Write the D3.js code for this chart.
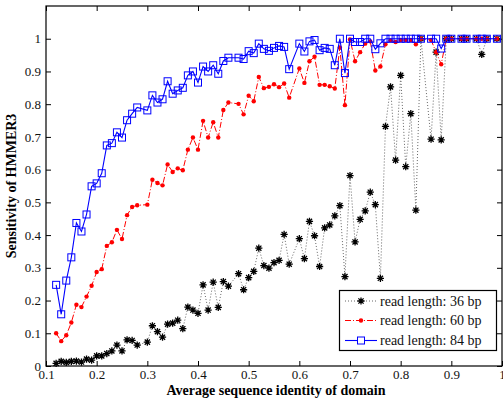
<!DOCTYPE html>
<html><head><meta charset="utf-8">
<script src="https://cdn.jsdelivr.net/npm/d3@7"></script>
<style>body{margin:0;background:#fff}svg{display:block}text{font-family:"Liberation Serif","Times New Roman",serif}</style>
</head><body><svg id="c" width="503" height="400"></svg>
<script>
const xTicks = [0.1,0.2,0.3,0.4,0.5,0.6,0.7,0.8,0.9,1];
const yTicks = [0,0.1,0.2,0.3,0.4,0.5,0.6,0.7,0.8,0.9,1];
const seriesNames = ["read length: 36 bp","read length: 60 bp","read length: 84 bp"];

const x36 = [0.12,0.13,0.14,0.15,0.16,0.17,0.18,0.19,0.20,0.21,0.22,0.23,0.24,0.25,0.26,0.27,0.28,0.30,0.31,0.32,0.33,0.34,0.35,0.36,0.37,0.38,0.39,0.40,0.41,0.42,0.43,0.44,0.45,0.46,0.48,0.49,0.50,0.51,0.52,0.53,0.54,0.55,0.56,0.57,0.58,0.60,0.61,0.62,0.63,0.64,0.65,0.66,0.67,0.68,0.69,0.70,0.71,0.72,0.73,0.74,0.75,0.76,0.77,0.78,0.79,0.80,0.81,0.82,0.83,0.84,0.86,0.87,0.88,0.89,0.90,0.92,0.93,0.95,0.96,0.97,0.99];
const y36 = [0.008,0.014,0.011,0.014,0.015,0.012,0.021,0.018,0.031,0.031,0.038,0.046,0.064,0.046,0.080,0.078,0.064,0.073,0.123,0.105,0.088,0.128,0.131,0.140,0.114,0.180,0.171,0.161,0.248,0.171,0.256,0.179,0.258,0.244,0.282,0.233,0.270,0.289,0.360,0.307,0.299,0.316,0.323,0.402,0.311,0.389,0.328,0.442,0.398,0.304,0.422,0.431,0.459,0.490,0.273,0.582,0.379,0.448,0.474,0.531,0.493,0.268,0.732,0.853,0.629,0.888,0.609,0.771,0.476,1.0,0.693,0.959,0.691,1.0,1.0,1.0,1.0,1.0,0.952,1.0,1.0];

const x60 = [0.12,0.13,0.14,0.15,0.16,0.17,0.18,0.19,0.20,0.21,0.22,0.23,0.24,0.25,0.26,0.27,0.28,0.30,0.31,0.32,0.33,0.34,0.35,0.36,0.37,0.38,0.39,0.40,0.41,0.42,0.43,0.44,0.45,0.46,0.48,0.49,0.50,0.51,0.52,0.53,0.54,0.55,0.56,0.57,0.58,0.60,0.61,0.62,0.63,0.64,0.65,0.66,0.67,0.68,0.69,0.70,0.71,0.72,0.73,0.74,0.75,0.76,0.77,0.78,0.79,0.80,0.81,0.82,0.83,0.84,0.86,0.87,0.88,0.89,0.90,0.92,0.93,0.95,0.96,0.97,0.99];
const y60 = [0.100,0.076,0.094,0.133,0.187,0.180,0.212,0.245,0.287,0.296,0.367,0.378,0.416,0.388,0.461,0.486,0.491,0.493,0.569,0.559,0.552,0.616,0.593,0.604,0.598,0.661,0.698,0.661,0.749,0.698,0.745,0.698,0.782,0.805,0.801,0.769,0.826,0.809,0.883,0.849,0.853,0.861,0.852,0.863,0.820,0.909,0.865,0.931,0.945,0.859,0.859,0.855,0.848,0.973,0.797,0.998,0.931,0.959,0.985,0.992,0.903,0.915,0.983,0.995,0.990,0.996,0.996,0.996,0.983,1.0,0.996,0.959,0.922,1.0,1.0,1.0,1.0,1.0,1.0,1.0,1.0];

const x84 = [0.12,0.13,0.14,0.15,0.16,0.17,0.18,0.19,0.20,0.21,0.22,0.23,0.24,0.25,0.26,0.27,0.28,0.30,0.31,0.32,0.33,0.34,0.35,0.36,0.37,0.38,0.39,0.40,0.41,0.42,0.43,0.44,0.45,0.46,0.48,0.49,0.50,0.51,0.52,0.53,0.54,0.55,0.56,0.57,0.58,0.60,0.61,0.62,0.63,0.64,0.65,0.66,0.67,0.68,0.69,0.70,0.71,0.72,0.73,0.74,0.75,0.76,0.77,0.78,0.79,0.80,0.81,0.82,0.83,0.84,0.86,0.87,0.88,0.89,0.90,0.92,0.93,0.95,0.96,0.97,0.99];
const y84 = [0.248,0.158,0.261,0.332,0.437,0.411,0.463,0.549,0.558,0.589,0.674,0.681,0.714,0.698,0.751,0.771,0.790,0.781,0.827,0.805,0.815,0.870,0.832,0.842,0.850,0.888,0.900,0.866,0.915,0.900,0.919,0.893,0.932,0.942,0.942,0.938,0.962,0.956,0.985,0.969,0.963,0.972,0.978,0.975,0.907,0.985,0.961,0.992,0.996,0.965,0.972,0.969,0.919,1.0,0.895,1.0,0.990,0.990,1.0,1.0,0.968,0.986,1.0,1.0,1.0,1.0,1.0,1.0,1.0,1.0,1.0,1.0,0.970,1.0,1.0,1.0,1.0,1.0,1.0,1.0,1.0];

const L = 46, R = 502, T = 6, B = 366;
const svg = d3.select("#c");
const xs = d3.scaleLinear().domain([0.1, 1]).range([L, R]);
const ys = d3.scaleLinear().domain([0, 1.1]).range([B, T]);

svg.append("rect").attr("x", 0).attr("y", 0).attr("width", 503).attr("height", 400).attr("fill", "#fff");

const tickFmt = d => d3.format("~g")(d);
const gB = svg.append("g").attr("transform", `translate(0,${B})`)
  .call(d3.axisBottom(xs).tickValues(xTicks).tickSizeInner(-5).tickSizeOuter(0).tickPadding(4).tickFormat(tickFmt));
const gT = svg.append("g").attr("transform", `translate(0,${T})`)
  .call(d3.axisTop(xs).tickValues(xTicks).tickSizeInner(-5).tickSizeOuter(0).tickFormat(""));
const gL = svg.append("g").attr("transform", `translate(${L},0)`)
  .call(d3.axisLeft(ys).tickValues(yTicks).tickSizeInner(-5).tickSizeOuter(0).tickPadding(5).tickFormat(tickFmt));
const gR = svg.append("g").attr("transform", `translate(${R},0)`)
  .call(d3.axisRight(ys).tickValues(yTicks).tickSizeInner(-5).tickSizeOuter(0).tickFormat(""));
[gB, gT, gL, gR].forEach(g => {
  g.select(".domain").remove();
  g.selectAll("line").attr("stroke", "#000").attr("stroke-width", 1);
  g.selectAll("text").attr("font-size", 13).attr("fill", "#111").attr("font-family", "Liberation Serif, serif");
});
svg.append("rect").attr("x", L).attr("y", T).attr("width", R - L).attr("height", B - T)
  .attr("fill", "none").attr("stroke", "#000").attr("stroke-width", 1.2);

const line = d3.line().x(d => xs(d[0])).y(d => ys(d[1]));
const plot = svg.append("g");

const d36 = x36.map((v, i) => [v, y36[i]]);
const d60 = x60.map((v, i) => [v, y60[i]]);
const d84 = x84.map((v, i) => [v, y84[i]]);

function starPath(cx, cy, r) {
  const d = r * 0.72;
  return `M${cx - r},${cy}L${cx + r},${cy}M${cx},${cy - r}L${cx},${cy + r}` +
    `M${cx - d},${cy - d}L${cx + d},${cy + d}M${cx - d},${cy + d}L${cx + d},${cy - d}`;
}

plot.append("path").datum(d36).attr("d", line).attr("fill", "none")
  .attr("stroke", "#555").attr("stroke-width", 0.9).attr("stroke-dasharray", "1,2");
plot.selectAll(".s36").data(d36).join("path").attr("class", "s36")
  .attr("d", d => starPath(xs(d[0]), ys(d[1]), 3.6))
  .attr("stroke", "#000").attr("stroke-width", 1.3).attr("fill", "none");

plot.append("path").datum(d60).attr("d", line).attr("fill", "none")
  .attr("stroke", "#ff0000").attr("stroke-width", 1).attr("stroke-dasharray", "6,2,1,2");
plot.selectAll(".s60").data(d60).join("circle").attr("class", "s60")
  .attr("cx", d => xs(d[0])).attr("cy", d => ys(d[1])).attr("r", 2.2).attr("fill", "#ff0000");

plot.append("path").datum(d84).attr("d", line).attr("fill", "none")
  .attr("stroke", "#0000ff").attr("stroke-width", 1.1);
plot.selectAll(".s84").data(d84).join("rect").attr("class", "s84")
  .attr("x", d => xs(d[0]) - 3.5).attr("y", d => ys(d[1]) - 3.5).attr("width", 7).attr("height", 7)
  .attr("fill", "none").attr("stroke", "#0000ff").attr("stroke-width", 1);

svg.append("text").attr("x", (L + R) / 2 + 2).attr("y", 395).attr("text-anchor", "middle")
  .attr("font-size", 14).attr("font-weight", "bold").text("Average sequence identity of domain");
svg.append("text").attr("transform", `translate(16,${(T + B) / 2}) rotate(-90)`).attr("text-anchor", "middle")
  .attr("font-size", 14).attr("font-weight", "bold").text("Sensitivity of HMMER3");

const lg = svg.append("g");
lg.append("rect").attr("x", 339.5).attr("y", 290.5).attr("width", 157).attr("height", 60)
  .attr("fill", "#fff").attr("stroke", "#000").attr("stroke-width", 1.2);
const rows = [301, 320.5, 340.5];
const lx0 = 345, lx1 = 377, lxm = 361;
lg.append("line").attr("x1", lx0).attr("x2", lx1).attr("y1", rows[0]).attr("y2", rows[0])
  .attr("stroke", "#555").attr("stroke-width", 0.9).attr("stroke-dasharray", "1,2");
lg.append("path").attr("d", starPath(lxm, rows[0], 3.6)).attr("stroke", "#000").attr("stroke-width", 1.3);
lg.append("line").attr("x1", lx0).attr("x2", lx1).attr("y1", rows[1]).attr("y2", rows[1])
  .attr("stroke", "#ff0000").attr("stroke-width", 1).attr("stroke-dasharray", "6,2,1,2");
lg.append("circle").attr("cx", lxm).attr("cy", rows[1]).attr("r", 2.2).attr("fill", "#ff0000");
lg.append("line").attr("x1", lx0).attr("x2", lx1).attr("y1", rows[2]).attr("y2", rows[2])
  .attr("stroke", "#0000ff").attr("stroke-width", 1.1);
lg.append("rect").attr("x", lxm - 3.5).attr("y", rows[2] - 3.5).attr("width", 7).attr("height", 7)
  .attr("fill", "#fff").attr("stroke", "#0000ff");
seriesNames.forEach((n, i) => {
  lg.append("text").attr("x", 380).attr("y", rows[i] + 4.5).attr("font-size", 14).attr("fill", "#111").text(n);
});
</script></body></html>
